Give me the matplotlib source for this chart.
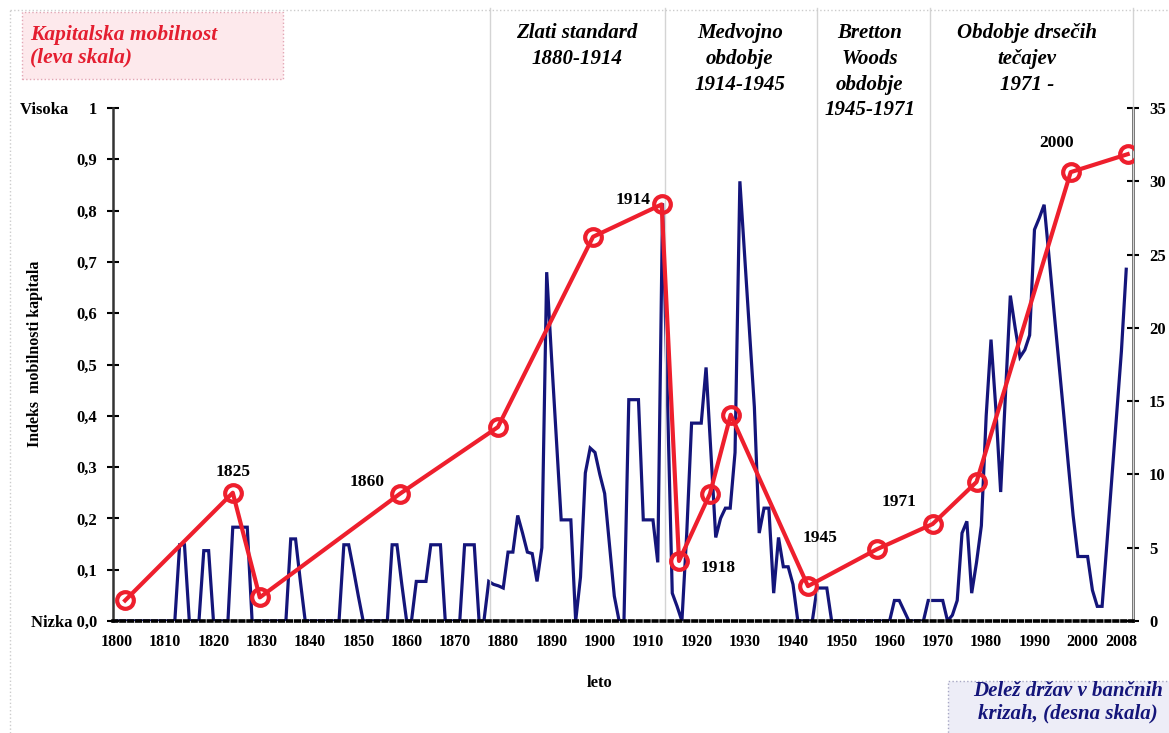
import numpy as np
import matplotlib.pyplot as plt
from matplotlib.patches import Rectangle
from matplotlib.lines import Line2D

plt.rcParams['font.family'] = ['Liberation Serif', 'DejaVu Serif']
plt.rcParams['font.weight'] = 'bold'

# leva skala: indeks mobilnosti kapitala
mob_years = [1801.7, 1824.0, 1829.6, 1858.6, 1878.9, 1898.6, 1912.8, 1916.4,
             1922.8, 1927.1, 1943.1, 1957.4, 1968.9, 1978.0, 1997.5, 2009.3]
mob_index = [0.04, 0.25, 0.046, 0.248, 0.378, 0.749, 0.812, 0.117,
             0.248, 0.402, 0.068, 0.140, 0.189, 0.271, 0.875, 0.910]
mob_labels = ["", "1825", "", "1860", "", "", "1914", "1918",
              "", "", "1945", "", "1971", "", "2000", ""]

# desna skala: delez drzav v bancnih krizah, letno 1800-2009
crisis_years = np.arange(1800, 2010)
crisis_share = [
    0, 0, 0, 0, 0, 0, 0, 0, 0, 0,                          # 1800
    0, 0, 0, 5.2, 5.2, 0, 0, 0, 4.8, 4.8,                  # 1810
    0, 0, 0, 0, 6.4, 6.4, 6.4, 6.4, 0, 0,                  # 1820
    0, 0, 0, 0, 0, 0, 5.6, 5.6, 2.7, 0,                    # 1830
    0, 0, 0, 0, 0, 0, 0, 5.2, 5.2, 3.5,                    # 1840
    1.7, 0, 0, 0, 0, 0, 0, 5.2, 5.2, 2.5,                  # 1850
    0, 0, 2.7, 2.7, 2.7, 5.2, 5.2, 5.2, 0, 0,              # 1860
    0, 0, 5.2, 5.2, 5.2, 0, 0, 2.7, 2.5, 2.4,              # 1870
    2.25, 4.7, 4.7, 7.2, 6.0, 4.7, 4.6, 2.7, 5.0, 23.8,    # 1880
    18.0, 12.5, 6.9, 6.9, 6.9, 0, 3.0, 10.1, 11.8, 11.5,   # 1890
    10.0, 8.7, 5.2, 1.7, 0, 0, 15.1, 15.1, 15.1, 6.9,      # 1900
    6.9, 6.9, 4.0, 28.5, 15.2, 1.9, 1.0, 0, 6.0, 13.5,     # 1910
    13.5, 13.5, 17.3, 11.5, 5.7, 7.0, 7.7, 7.7, 11.5, 30.0,  # 1920
    24.9, 19.7, 14.6, 6.0, 7.7, 7.7, 1.9, 5.7, 3.7, 3.7,   # 1930
    2.5, 0, 0, 0, 0, 2.25, 2.25, 2.25, 0, 0,               # 1940
    0, 0, 0, 0, 0, 0, 0, 0, 0, 0,                          # 1950
    0, 1.4, 1.4, 0.7, 0, 0, 0, 0, 1.4, 1.4,                # 1960
    1.4, 1.4, 0, 0.4, 1.4, 6.0, 6.8, 1.9, 4.0, 6.5,        # 1970
    14.0, 19.2, 14.5, 8.8, 15.5, 22.2, 20.0, 18.0, 18.5, 19.5,  # 1980
    26.7, 27.5, 28.4, 24.9, 21.3, 17.8, 14.3, 10.7, 7.2, 4.4,   # 1990
    4.4, 4.4, 2.1, 1.0, 1.0, 5.3, 9.7, 14.0, 18.4, 24.0,   # 2000
]

period_lines = [1877.3, 1913.5, 1945.0, 1968.3, 2010.4]
period_names = ["Zlati standard\n1880-1914", "Medvojno\nobdobje\n1914-1945",
                "Bretton\nWoods\nobdobje\n1945-1971", "Obdobje drsečih\ntečajev\n1971 -"]
period_centers = [1895.2, 1929.0, 1955.9, 1988.4]

x_ticks = [1800, 1810, 1820, 1830, 1840, 1850, 1860, 1870, 1880, 1890, 1900,
           1910, 1920, 1930, 1940, 1950, 1960, 1970, 1980, 1990, 2000, 2008]
left_ticks = np.arange(0, 1.01, 0.1)
left_labels = ["Nizka 0,0", "0,1", "0,2", "0,3", "0,4", "0,5", "0,6", "0,7",
               "0,8", "0,9", "Visoka     1"]
right_ticks = np.arange(0, 36, 5)

RED = '#ee1f2d'
NAVY = '#14157a'
W, H = 1169, 733

fig = plt.figure(figsize=(W / 100, H / 100), dpi=100)
ax = fig.add_axes([113 / W, 1 - 621 / H, 1020 / W, 513 / H])
ax2 = ax.twinx()
ax.set_zorder(ax2.get_zorder() + 1)
ax.patch.set_visible(False)

ax.set_xlim(1799.2, 2010.4)
ax.set_ylim(0, 1)
ax2.set_ylim(0, 35)

# period separators and titles
for x in period_lines:
    ax.axvline(x, ymin=0, ymax=1.195, color='#d4d4d4', lw=1, clip_on=False, zorder=0)
for name, xc in zip(period_names, period_centers):
    ax.text(xc, 1.165, name, ha='center', va='top', fontsize=15, style='italic',
            linespacing=1.38, transform=ax.get_xaxis_transform(), clip_on=False)

ax2.plot(crisis_years, crisis_share, color=NAVY, lw=2.3, solid_joinstyle='miter')

ax.plot(mob_years, mob_index, color=RED, lw=3, marker='o', ms=12, mfc='none',
        mec=RED, mew=3, zorder=5)
offsets = {"1825": (0, 21), "1860": (-33, 12), "1914": (-29, 4), "1918": (39, -7),
           "1945": (12, 48), "1971": (-34, 22), "2000": (-14, 29)}
for x, y, lab in zip(mob_years, mob_index, mob_labels):
    if lab:
        ax.annotate(lab, (x, y), xytext=offsets[lab], textcoords='offset pixels',
                    ha='center', va='center', fontsize=12.5)

ax.set_xticks(x_ticks)
ax.set_xticklabels([str(t) for t in x_ticks])
ax.tick_params(axis='x', length=0, pad=9, labelsize=11.5)
ax.set_yticks(left_ticks)
ax.set_yticklabels(left_labels)
ax.tick_params(axis='y', direction='inout', length=9, width=1.5, pad=7, labelsize=12)
ax2.set_yticks(right_ticks)
ax2.tick_params(axis='y', direction='inout', length=9, width=1.5, pad=7, labelsize=12)

for s in ['top', 'right']:
    ax.spines[s].set_visible(False)
for s in ['top', 'left', 'bottom']:
    ax2.spines[s].set_visible(False)
ax.spines['left'].set_linewidth(1.8)
ax.spines['left'].set_color('#333333')
ax2.spines['right'].set_linewidth(1.8)
ax2.spines['right'].set_color('#333333')
ax.spines['bottom'].set_linewidth(2.6)
ax.spines['bottom'].set_linestyle((0, (1, 1.2)))

ax.set_ylabel("Indeks  mobilnosti kapitala", fontsize=11.5, fontweight='bold')
ax.yaxis.set_label_coords(-0.069, 0.52)
ax.set_xlabel("leto", fontsize=12, fontweight='bold')
ax.xaxis.set_label_coords(0.477, -0.105)

# frame of the chart area
fig.add_artist(Line2D([10 / W, 10 / W], [0, 1 - 10 / H], color='#cccccc', lw=1, ls=':'))
fig.add_artist(Line2D([10 / W, 1], [1 - 10 / H, 1 - 10 / H], color='#cccccc', lw=1, ls=':'))

# legend boxes
fig.add_artist(Rectangle((22 / W, 1 - 79 / H), 261 / W, 67 / H, facecolor='#fde9ec',
                         edgecolor='#e3a6b4', lw=1, ls=':'))
fig.text(30 / W, 1 - 25 / H, "Kapitalska mobilnost\n(leva skala)", color='#e41e30',
         fontsize=15.5, style='italic', ha='left', va='top', linespacing=1.15)
fig.add_artist(Rectangle((948 / W, -0.01), 240 / W, 59 / H, facecolor='#ededf7',
                         edgecolor='#a8a8c4', lw=1, ls=':'))
fig.text(1068 / W, 1 - 681 / H, "Delež držav v bančnih\nkrizah, (desna skala)", color=NAVY,
         fontsize=15, style='italic', ha='center', va='top', linespacing=1.15)

fig.savefig('out.png', dpi=100)
